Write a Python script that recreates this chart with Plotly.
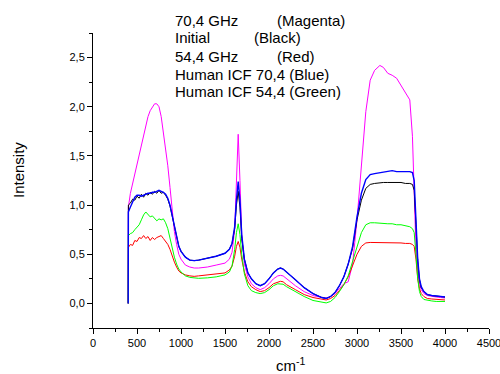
import plotly.graph_objects as go

wavenumber = [400, 402, 425, 450, 475, 500, 525, 550, 575, 600, 625, 650, 675, 700, 725, 750, 775, 800, 825, 850,
              875, 900, 925, 950, 975, 1000, 1050, 1100, 1150, 1200, 1300, 1400, 1500, 1550, 1580, 1610, 1630, 1650,
              1670, 1690, 1720, 1760, 1800, 1850, 1900, 1950, 2000, 2050, 2100, 2130, 2160, 2200, 2300, 2400, 2500,
              2600, 2650, 2700, 2750, 2800, 2850, 2900, 2950, 3000, 3050, 3100, 3150, 3200, 3260, 3300, 3350, 3400,
              3450, 3500, 3550, 3600, 3630, 3650, 3670, 3690, 3710, 3730, 3760, 3800, 3850, 3900, 3950, 4000]

magenta_70 = [0, 0.98, 1.12, 1.22, 1.32, 1.42, 1.52, 1.62, 1.72, 1.82, 1.90, 1.96, 1.99, 2.03, 2.03, 2.00, 1.90, 1.75,
              1.58, 1.40, 1.18, 0.93, 0.73, 0.60, 0.50, 0.45, 0.39, 0.37, 0.36, 0.36, 0.37, 0.39, 0.41, 0.45, 0.52,
              0.75, 1.30, 1.72, 1.25, 0.70, 0.40, 0.27, 0.20, 0.16, 0.14, 0.16, 0.20, 0.25, 0.28, 0.285, 0.28, 0.25,
              0.18, 0.12, 0.08, 0.06, 0.055, 0.07, 0.10, 0.15, 0.20, 0.22, 0.40, 0.85, 1.45, 1.95, 2.27, 2.37, 2.42,
              2.40, 2.34, 2.32, 2.29, 2.22, 2.14, 2.07, 1.70, 1.10, 0.55, 0.32, 0.20, 0.14, 0.10, 0.08, 0.07, 0.065,
              0.06, 0.055]

black_initial = [0, 1.00, 1.02, 1.06, 1.05, 1.09, 1.07, 1.11, 1.08, 1.12, 1.10, 1.13, 1.11, 1.14, 1.12, 1.15, 1.12,
                 1.13, 1.10, 1.06, 0.99, 0.89, 0.77, 0.66, 0.58, 0.53, 0.47, 0.44, 0.435, 0.44, 0.46, 0.48, 0.51,
                 0.55, 0.61, 0.76, 1.00, 1.14, 0.98, 0.66, 0.45, 0.31, 0.25, 0.20, 0.18, 0.20, 0.25, 0.31, 0.35,
                 0.36, 0.35, 0.32, 0.24, 0.16, 0.10, 0.06, 0.05, 0.07, 0.11, 0.18, 0.27, 0.40, 0.56, 0.85, 1.05,
                 1.17, 1.21, 1.22, 1.23, 1.23, 1.23, 1.23, 1.23, 1.23, 1.22, 1.22, 1.21, 1.15, 0.80, 0.43, 0.24,
                 0.16, 0.12, 0.09, 0.08, 0.075, 0.07, 0.065]

red_54 = [0, 0.57, 0.60, 0.59, 0.64, 0.63, 0.67, 0.66, 0.69, 0.66, 0.68, 0.64, 0.67, 0.65, 0.67, 0.68, 0.69, 0.66,
          0.63, 0.60, 0.55, 0.48, 0.42, 0.37, 0.33, 0.31, 0.29, 0.28, 0.275, 0.28, 0.29, 0.30, 0.31, 0.34, 0.38,
          0.48, 0.58, 0.63, 0.57, 0.45, 0.32, 0.22, 0.17, 0.14, 0.12, 0.13, 0.16, 0.20, 0.22, 0.225, 0.22, 0.19,
          0.14, 0.09, 0.06, 0.04, 0.035, 0.05, 0.08, 0.13, 0.19, 0.27, 0.38, 0.50, 0.58, 0.615, 0.62, 0.62, 0.62,
          0.62, 0.62, 0.62, 0.62, 0.615, 0.61, 0.61, 0.60, 0.58, 0.45, 0.25, 0.15, 0.10, 0.07, 0.05, 0.045, 0.04,
          0.04, 0.035]

green_icf_54 = [0, 0.69, 0.71, 0.72, 0.75, 0.77, 0.80, 0.85, 0.90, 0.93, 0.90, 0.88, 0.89, 0.86, 0.84, 0.86, 0.85,
                0.86, 0.82, 0.76, 0.66, 0.56, 0.47, 0.40, 0.35, 0.32, 0.28, 0.265, 0.26, 0.255, 0.26, 0.27, 0.29,
                0.32, 0.38, 0.55, 0.72, 0.81, 0.70, 0.50, 0.30, 0.18, 0.13, 0.11, 0.10, 0.11, 0.14, 0.18, 0.20,
                0.20, 0.195, 0.17, 0.12, 0.07, 0.03, 0.01, 0.005, 0.02, 0.06, 0.12, 0.19, 0.28, 0.42, 0.57, 0.72,
                0.80, 0.82, 0.82, 0.815, 0.81, 0.81, 0.81, 0.80, 0.80, 0.79, 0.78, 0.76, 0.72, 0.50, 0.25, 0.12,
                0.07, 0.04, 0.03, 0.025, 0.02, 0.02, 0.02]

blue_icf_70 = [0, 0.93, 0.98, 1.04, 1.08, 1.10, 1.10, 1.09, 1.10, 1.11, 1.12, 1.12, 1.13, 1.13, 1.14, 1.15, 1.14,
               1.13, 1.11, 1.07, 1.00, 0.89, 0.77, 0.66, 0.58, 0.53, 0.47, 0.44, 0.435, 0.44, 0.46, 0.48, 0.51,
               0.55, 0.61, 0.78, 1.05, 1.24, 1.05, 0.70, 0.45, 0.31, 0.25, 0.20, 0.18, 0.20, 0.25, 0.31, 0.35,
               0.36, 0.35, 0.32, 0.24, 0.16, 0.10, 0.06, 0.05, 0.07, 0.11, 0.18, 0.27, 0.40, 0.58, 0.88, 1.12,
               1.26, 1.31, 1.32, 1.33, 1.33, 1.34, 1.35, 1.34, 1.34, 1.34, 1.34, 1.33, 1.25, 0.85, 0.45, 0.25,
               0.17, 0.12, 0.09, 0.08, 0.075, 0.07, 0.065]

series = [
    ("70,4 GHz", magenta_70, "#FF00FF", 1.0),
    ("Initial", black_initial, "#000000", 1.0),
    ("54,4 GHz", red_54, "#FF0000", 1.0),
    ("Human ICF 54,4", green_icf_54, "#00FF00", 1.0),
    ("Human ICF 70,4", blue_icf_70, "#0000FF", 1.4),
]

fig = go.Figure()
for name, vals, col, w in series:
    fig.add_trace(go.Scatter(x=wavenumber, y=vals, mode="lines", name=name,
                             line=dict(color=col, width=w), showlegend=False))

axis_common = dict(showline=True, linecolor="black", linewidth=1, ticks="outside", ticklen=5,
                   tickcolor="black", showgrid=False, zeroline=False, mirror=False, automargin=False,
                   ticklabeloverflow="allow",
                   tickfont=dict(family="Liberation Sans, Arial", size=11, color="black"))

fig.update_xaxes(range=[0, 4500], dtick=500, tick0=0,
                 minor=dict(ticks="outside", ticklen=3, dtick=250, tick0=0, tickcolor="black", showgrid=False),
                 **axis_common)
fig.update_yaxes(range=[-0.25, 2.75], dtick=0.5, tick0=0, tickformat=".1f",
                 minor=dict(ticks="outside", ticklen=3, dtick=0.25, tickcolor="black", showgrid=False),
                 **axis_common)

def px_x(p):
    return (p - 93) / 396.0

def px_y(p):
    return (328 - p) / 295.0

font = dict(family="Liberation Sans, Arial", size=15, color="black")
labels = [
    (173, 20, "70,4 GHz"), (275, 20, "(Magenta)"),
    (173, 38, "Initial"), (252, 38, "(Black)"),
    (173, 56, "54,4 GHz"), (275, 56, "(Red)"),
    (173, 74, "Human ICF 70,4 (Blue)"),
    (173, 92, "Human ICF 54,4 (Green)"),
]
annotations = [dict(x=px_x(x), y=px_y(y), xref="paper", yref="paper", text=t, showarrow=False,
                    xanchor="left", yanchor="middle", font=font) for x, y, t in labels]
annotations.append(dict(x=px_x(18), y=px_y(170), xref="paper", yref="paper", text="Intensity",
                        textangle=-90, showarrow=False, xanchor="center", yanchor="middle", font=font))
annotations.append(dict(x=px_x(290), y=px_y(364), xref="paper", yref="paper", text="cm<sup>-1</sup>",
                        showarrow=False, xanchor="center", yanchor="middle", font=font))

fig.update_layout(width=500, height=374, margin=dict(l=93, r=11, t=33, b=46),
                  paper_bgcolor="white", plot_bgcolor="white", separators=",.",
                  annotations=annotations, showlegend=False)

fig.write_html("out.html", config={"displayModeBar": False},
               post_script="document.body.style.margin='0';document.body.style.padding='0';"
                           "document.body.style.overflow='hidden';")
